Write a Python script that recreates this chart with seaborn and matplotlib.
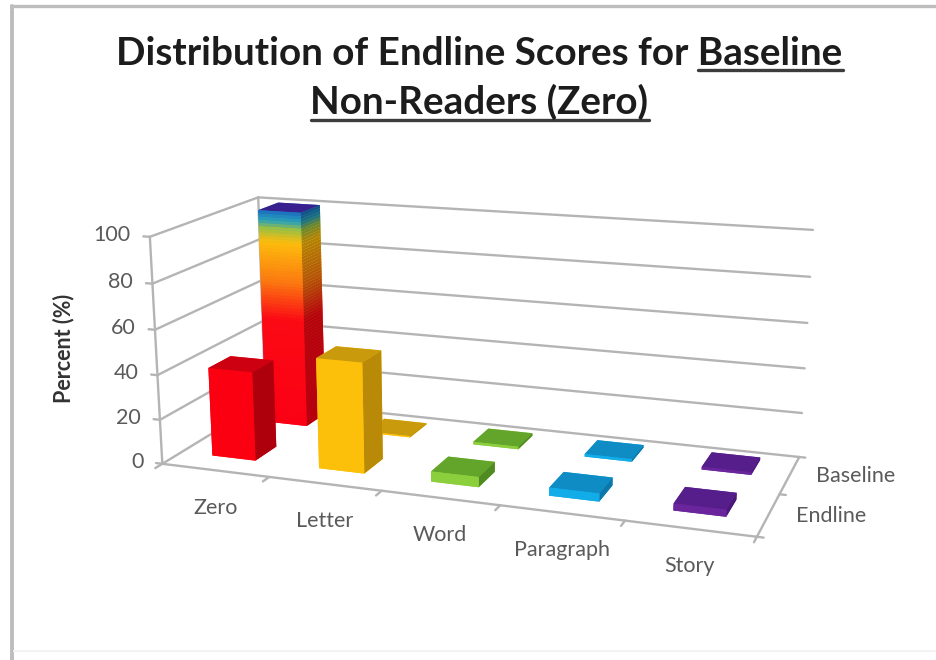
import numpy as np
import pandas as pd
import matplotlib
matplotlib.use("Agg")
import matplotlib.pyplot as plt
from matplotlib.colors import LinearSegmentedColormap, to_rgb
from matplotlib.lines import Line2D
import seaborn as sns

# Percent of baseline non-readers at each reading level
categories = ["Zero", "Letter", "Word", "Paragraph", "Story"]
rounds = ["Endline", "Baseline"]
endline = [40, 49, 4.5, 3.5, 3]
baseline = [100, 0.6, 1.2, 1.2, 1.2]
z_ticks = [0, 20, 40, 60, 80, 100]

front_colors = ["#fb0010", "#fdc00a", "#8ccf3c", "#12ace8", "#6a259c"]
top_colors = ["#cc0010", "#c99a0c", "#62a52a", "#0f8cc4", "#561e8a"]
side_colors = ["#ae000c", "#b88a08", "#4f8a22", "#0c78aa", "#4a1878"]

# Colour ramp of the tallest column, bottom to top
ramp_stops = [(0.0, "#fb0014"), (0.50, "#fb0a14"), (0.68, "#fb7a10"), (0.86, "#fdbc0c"),
              (0.92, "#9ec040"), (0.96, "#2aa0b8"), (1.0, "#1c70c0")]
ramp_top = "#38208f"

table = pd.DataFrame({"category": categories, "Endline": endline, "Baseline": baseline})

sns.set_theme(style="white")
plt.rcParams["font.family"] = ["Lato", "DejaVu Sans"]
plt.rcParams["patch.force_edgecolor"] = False

W, H = 936, 660
fig = plt.figure(figsize=(W / 100, H / 100), dpi=100, facecolor="white")
ax = fig.add_axes([0, 0, 1, 1], projection="3d")
ax.set_axis_off()
ax.computed_zorder = False

# Camera: a projective map from (category, round, percent) to pixels, solved from frame anchors
anchors = [
    ((0, 0, 0), (163, 463)), ((1, 0, 0), (270, 477)), ((2, 0, 0), (382, 492)),
    ((3, 0, 0), (498, 507)), ((4, 0, 0), (625, 522)), ((5, 0, 0), (757, 535)),
    ((5, 2, 0), (800, 455)), ((0, 2, 0), (265, 401)),
    ((0, 0, 100), (150, 235)), ((0, 2, 100), (258, 198)), ((5, 2, 100), (813, 231)),
]
rows = []
for (X, Y, Z), (u, v) in anchors:
    v = H - v
    rows.append([X, Y, Z, 1, 0, 0, 0, 0, -u * X, -u * Y, -u * Z, -u])
    rows.append([0, 0, 0, 0, X, Y, Z, 1, -v * X, -v * Y, -v * Z, -v])
camera = np.linalg.svd(np.array(rows, float))[2][-1].reshape(3, 4)
camera = camera / camera[2, 3]


def fixed_projection():
    to_view = ax.transData.inverted().get_matrix()
    view = to_view @ camera
    # Depth stays negative everywhere; it grows towards the far corner of the floor
    depth = np.array([-0.01, 0.025, -0.0004, -0.5])
    return np.vstack([view[0], view[1], depth, view[2]])


ax.get_proj = fixed_projection

grid_color = "#b4b4b4"
label_color = "#5a5a5a"
label_size = 15.5
n_cat = len(categories)
n_round = len(rounds)
x_max = float(n_cat)
y_max = float(n_round)
z_top = max(z_ticks)


def frame_line(xs, ys, zs, lw=1.7):
    ax.plot(xs, ys, zs, color=grid_color, lw=lw, solid_capstyle="round", zorder=1)


def axis_label(x, y, z, text, drop_px=0.0, **kw):
    """Place a flat label at the projected position of a chart coordinate."""
    u, v, w = camera @ np.array([x, y, z, 1.0])
    fig.text(u / w / W, (v / w - drop_px) / H, text, va="center",
             fontsize=label_size, color=label_color, **kw)


# Walls, floor edges and tick marks
for z in z_ticks:
    frame_line([0, 0], [0, y_max], [z, z])
    frame_line([0, x_max], [y_max, y_max], [z, z])
    frame_line([-0.06, 0], [0, 0], [z, z])
    axis_label(-0.18, 0, z, str(z), ha="right")
frame_line([0, 0], [0, 0], [0, z_top])
frame_line([0, 0], [y_max, y_max], [0, z_top])
frame_line([0, x_max], [0, 0], [0, 0])
frame_line([x_max, x_max], [0, y_max], [0, 0])
for i in range(n_cat + 1):
    frame_line([i, i], [0, -0.12], [0, 0])
for j in range(n_round + 1):
    frame_line([x_max, x_max + 0.05], [j, j], [0, 0])

for i, name in enumerate(categories):
    axis_label(i + 0.5, 0, 0, name, drop_px=37.5, ha="center")
for j, name in enumerate(rounds):
    axis_label(x_max + 0.21, j + 0.5, 1, name, ha="left")

bar_w = 0.41
order = 10


def column(x, y, base, height, front, side, top):
    """Draw one cuboid with its own colour on the three visible faces."""
    global order
    # bar3d face order: bottom, top, front, back, left, right
    faces = [front, top, front, front, front, side]
    ax.bar3d(x, y, base, bar_w, bar_w, height, color=faces, shade=False,
             linewidth=0.4, zorder=order)
    order += 1


ramp = LinearSegmentedColormap.from_list("column_ramp", ramp_stops)
n_slices = 70


def darker(rgb, k=0.7):
    return tuple(c * k for c in to_rgb(rgb))


# Back row first, then front row, left to right
for j, name in reversed(list(enumerate(rounds))):
    for i, value in enumerate(table[name]):
        x = i + 0.5 - bar_w / 2
        y = j * 1.05 + 0.55 - bar_w / 2
        if value == table[name].max() and name == "Baseline":
            step = value / n_slices
            for s in range(n_slices):
                c = ramp((s + 0.5) / n_slices)[:3]
                top = ramp_top if s == n_slices - 1 else c
                column(x, y, s * step, step, c, darker(c), top)
        else:
            column(x, y, 0, value, front_colors[i], side_colors[i], top_colors[i])

for artist in ax.get_children():
    artist.set_clip_on(False)

# Underlined title lines
renderer = fig.canvas.get_renderer()
title_kw = dict(fontsize=27.8, fontweight="bold", color="#1c1c1c", va="baseline")


def title_line(center_px, base_px, plain, underlined, rule_px):
    full = fig.text(0, 0, plain + underlined, **title_kw)
    total = full.get_window_extent(renderer).width
    lead = fig.text(0, 0, plain + "|", **title_kw)
    bar = fig.text(0, 0, "|", **title_kw)
    lead_w = lead.get_window_extent(renderer).width - bar.get_window_extent(renderer).width
    lead.remove()
    bar.remove()
    left = center_px - total / 2
    full.set_position((left / W, 1 - base_px / H))
    fig.add_artist(Line2D([(left + lead_w) / W, (left + total) / W],
                          [1 - rule_px / H] * 2, color="#3c3c3c", lw=2.4))


title_line(479.5, 65, "Distribution of Endline Scores for ", "Baseline", 70)
title_line(479.5, 114, "", "Non-Readers (Zero)", 120)

fig.text(64 / W, 1 - 348 / H, "Percent (%)", rotation=90, ha="center", va="center",
         fontsize=15.5, fontweight="bold", color="#333333")

# Outer chart border
border = "#bdbdbd"
fig.add_artist(Line2D([12 / W, 12 / W], [0, 1 - 6 / H], color=border, lw=2.8))
fig.add_artist(Line2D([11 / W, 1], [1 - 6 / H] * 2, color=border, lw=2.4))
fig.add_artist(Line2D([14 / W, 1], [1 - 651 / H] * 2, color="#f3f3f3", lw=1.5))

fig.savefig("out.png", dpi=100)
